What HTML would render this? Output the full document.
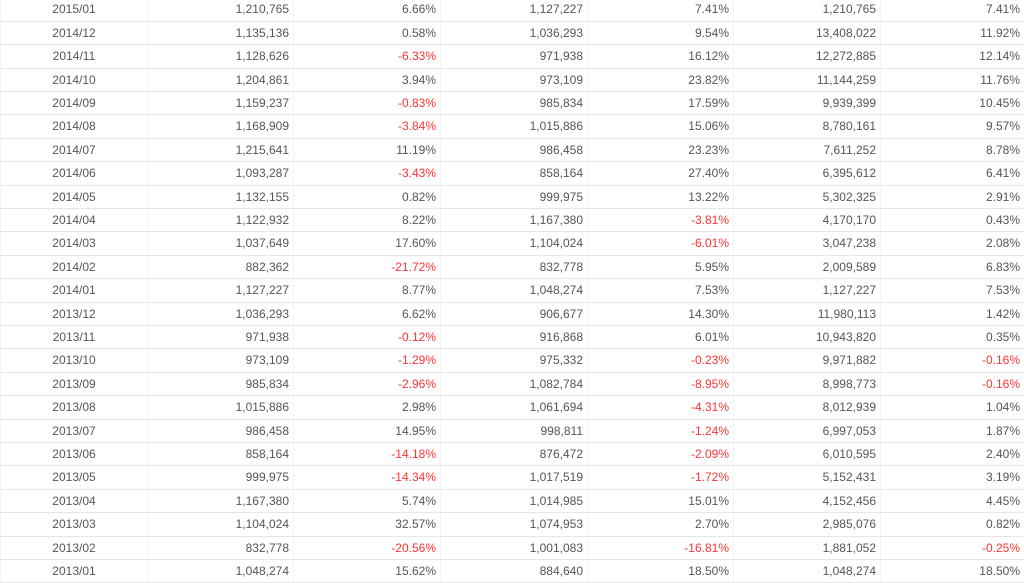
<!DOCTYPE html>
<html><head><meta charset="utf-8"><style>
html,body{margin:0;padding:0;background:#fff;width:1024px;height:580px;overflow:hidden}
body{font-family:"Liberation Sans",Arial,sans-serif;font-size:12px;color:#555}
.r{position:absolute;left:0;width:1024px;height:23.4px;border-bottom:1px solid #e6e6e6;box-sizing:border-box}
.c{position:absolute;top:0;height:22px;line-height:22px;text-align:right;border-left:1px solid #f3f3f3;box-sizing:border-box;padding-right:4px}
.c.d{text-align:center;padding:0}
.n{color:#ff3333}
</style></head><body>
<div id="t"></div>
<script>
var rows=[
["2015/01","1,210,765","6.66%","1,127,227","7.41%","1,210,765","7.41%"],
["2014/12","1,135,136","0.58%","1,036,293","9.54%","13,408,022","11.92%"],
["2014/11","1,128,626","-6.33%","971,938","16.12%","12,272,885","12.14%"],
["2014/10","1,204,861","3.94%","973,109","23.82%","11,144,259","11.76%"],
["2014/09","1,159,237","-0.83%","985,834","17.59%","9,939,399","10.45%"],
["2014/08","1,168,909","-3.84%","1,015,886","15.06%","8,780,161","9.57%"],
["2014/07","1,215,641","11.19%","986,458","23.23%","7,611,252","8.78%"],
["2014/06","1,093,287","-3.43%","858,164","27.40%","6,395,612","6.41%"],
["2014/05","1,132,155","0.82%","999,975","13.22%","5,302,325","2.91%"],
["2014/04","1,122,932","8.22%","1,167,380","-3.81%","4,170,170","0.43%"],
["2014/03","1,037,649","17.60%","1,104,024","-6.01%","3,047,238","2.08%"],
["2014/02","882,362","-21.72%","832,778","5.95%","2,009,589","6.83%"],
["2014/01","1,127,227","8.77%","1,048,274","7.53%","1,127,227","7.53%"],
["2013/12","1,036,293","6.62%","906,677","14.30%","11,980,113","1.42%"],
["2013/11","971,938","-0.12%","916,868","6.01%","10,943,820","0.35%"],
["2013/10","973,109","-1.29%","975,332","-0.23%","9,971,882","-0.16%"],
["2013/09","985,834","-2.96%","1,082,784","-8.95%","8,998,773","-0.16%"],
["2013/08","1,015,886","2.98%","1,061,694","-4.31%","8,012,939","1.04%"],
["2013/07","986,458","14.95%","998,811","-1.24%","6,997,053","1.87%"],
["2013/06","858,164","-14.18%","876,472","-2.09%","6,010,595","2.40%"],
["2013/05","999,975","-14.34%","1,017,519","-1.72%","5,152,431","3.19%"],
["2013/04","1,167,380","5.74%","1,014,985","15.01%","4,152,456","4.45%"],
["2013/03","1,104,024","32.57%","1,074,953","2.70%","2,985,076","0.82%"],
["2013/02","832,778","-20.56%","1,001,083","-16.81%","1,881,052","-0.25%"],
["2013/01","1,048,274","15.62%","884,640","18.50%","1,048,274","18.50%"]];
var xs=[0,147,293,440,587,733,880,1024],h="";
rows.forEach(function(r,i){
 h+='<div class="r" style="top:'+(-1.6+i*23.4)+'px">';
 r.forEach(function(v,j){
  var cls='c'+(j==0?' d':'')+(v.charAt(0)=='-'?' n':'');
  h+='<div class="'+cls+'" style="left:'+xs[j]+'px;width:'+(xs[j+1]-xs[j])+'px">'+v+'</div>';
 });
 h+='</div>';
});
document.getElementById('t').innerHTML=h;
</script>
</body></html>
